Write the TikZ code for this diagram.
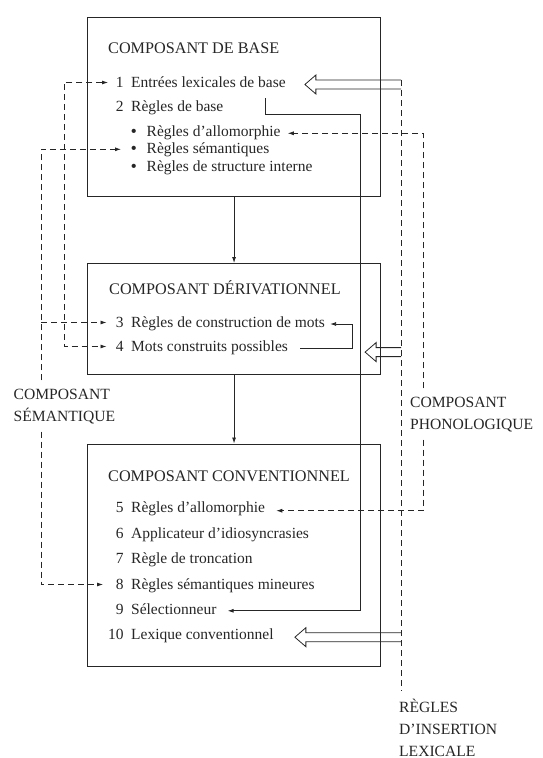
\documentclass[tikz,border=0pt]{standalone}
\usepackage{fontspec}
\setmainfont{Liberation Serif}
\usetikzlibrary{arrows.meta,calc}

\colorlet{ink}{black!85}

% numbered entry: right-aligned number, then the text
\newcommand\numitem[2]{\makebox[16pt][r]{#1}\hspace{7.5pt}#2}
% bulleted entry
\newcommand\bulitem[1]{\makebox[15.5pt][l]{\bfseries\textbullet}#1}
% outlined block arrow pointing left, from tail #1 to tip #2 (same height)
\newcommand\hollowarrow[2]{%
  \draw[hollow] ([yshift=4.5pt]#1) -- ([xshift=11pt,yshift=4.5pt]#2)
    -- ([xshift=11pt,yshift=9.5pt]#2) -- (#2)
    -- ([xshift=11pt,yshift=-9.5pt]#2) -- ([xshift=11pt,yshift=-4.5pt]#2)
    -- ([yshift=-4.5pt]#1);}

\begin{document}
\begin{tikzpicture}[x=1pt,y=-1pt,
  every node/.style={inner sep=0pt, text=ink},
  box/.style={draw=ink, line width=1.1pt, anchor=north west},
  ttl/.style={anchor=base west, font=\fontsize{16.2}{20}\selectfont},
  itm/.style={anchor=base west, font=\fontsize{15.5}{20}\selectfont},
  side/.style={anchor=base west, align=left, inner xsep=0pt, inner ysep=8pt,
               font=\fontsize{15.6}{22}\selectfont},
  conn/.style={draw=ink, line width=0.8pt},
  dsh/.style={draw=ink, line width=0.75pt, dash pattern=on 6pt off 4pt},
  hollow/.style={draw=ink, line width=0.8pt, line join=miter},
  >={Latex[length=6pt,width=4pt]}]

\useasboundingbox (0,0) rectangle (542,758);

% the three components
\node[box, minimum width=293pt, minimum height=179.5pt] (cbase) at (87,16.5) {};
\node[box, minimum width=293pt, minimum height=111pt]   (cder)  at (87,263) {};
\node[box, minimum width=293pt, minimum height=222pt]   (cconv) at (87,443.5) {};

\node[ttl] (tb) at (108,53)  {COMPOSANT DE BASE};
\node[ttl] (td) at (109,294) {COMPOSANT DÉRIVATIONNEL};
\node[ttl] (tc) at (108,481) {COMPOSANT CONVENTIONNEL};

% base component
\node[itm] (i1) at (107.5,87)  {\numitem{1}{Entrées lexicales de base}};
\node[itm] (i2) at (107.5,111) {\numitem{2}{Règles de base}};
\node[itm] (b1) at (131,136.3) {\bulitem{Règles d’allomorphie}};
\node[itm] (b2) at (131,153.8) {\bulitem{Règles sémantiques}};
\node[itm] (b3) at (131,171.3) {\bulitem{Règles de structure interne}};

% derivational component
\node[itm] (i3) at (107.5,327) {\numitem{3}{Règles de construction de mots}};
\node[itm] (i4) at (107.5,351) {\numitem{4}{Mots construits possibles}};

% conventional component
\node[itm] (i5)  at (107.5,512.7) {\numitem{5}{Règles d’allomorphie}};
\node[itm] (i6)  at (107.5,538.1) {\numitem{6}{Applicateur d’idiosyncrasies}};
\node[itm] (i7)  at (107.5,563.5) {\numitem{7}{Règle de troncation}};
\node[itm] (i8)  at (107.5,589)   {\numitem{8}{Règles sémantiques mineures}};
\node[itm] (i9)  at (107.5,614.3) {\numitem{9}{Sélectionneur}};
\node[itm] (i10) at (107.5,639.7) {\numitem{10}{Lexique conventionnel}};

% outer components (anchored on the baseline of their last line)
\node[side] (sem)  at (13.5,421) {COMPOSANT\\SÉMANTIQUE};
\node[side] (phon) at (410,429)  {COMPOSANT\\PHONOLOGIQUE};
\node[side] (ins)  at (399,756)  {RÈGLES\\D’INSERTION\\LEXICALE};

% columns of the dashed lines
\coordinate (Lout) at (41,0);
\coordinate (Lin)  at (64,0);
\coordinate (Ra)   at (401,0);
\coordinate (Rb)   at (423,0);

% arrow ends
\coordinate (a1)  at ([xshift=0.5pt,yshift=4.5pt]i1.base west);
\coordinate (ab2) at ([xshift=-10pt,yshift=4.5pt]b2.base west);
\coordinate (a3)  at ([xshift=-1pt,yshift=4.5pt]i3.base west);
\coordinate (a4)  at ([xshift=-1pt,yshift=4.5pt]i4.base west);
\coordinate (a8)  at ([xshift=-4.5pt,yshift=4.5pt]i8.base west);
\coordinate (ab1) at ([xshift=7pt,yshift=3pt]b1.base east);
\coordinate (a5)  at ([xshift=11pt,yshift=2pt]i5.base east);
\coordinate (a9)  at ([xshift=11pt,yshift=3.5pt]i9.base east);
\coordinate (h1)  at ([xshift=19pt,yshift=2.5pt]i1.base east);
\coordinate (h2)  at ([xshift=-16pt,yshift=23pt]cder.south east);
\coordinate (h3)  at ([xshift=21pt,yshift=2.5pt]i10.base east);
\coordinate (h1t) at (h1 -| Ra);
\coordinate (h2t) at (h2 -| Ra);
\coordinate (h3t) at (h3 -| Ra);

% flow between the components
\draw[conn,->] (cbase.south) -- (cder.north);
\draw[conn,->] (cder.south) -- (cconv.north);

% base rules feed the selector
\coordinate (s2) at (265,98);
\coordinate (rv) at (360,114);
\draw[conn,->] (s2) |- (rv) |- (a9);

% possible words loop back to word-formation rules
\coordinate (l4) at ([xshift=12pt,yshift=3pt]i4.base east);
\coordinate (l3) at ([xshift=5pt,yshift=3pt]i3.base east);
\coordinate (lr) at (352,0);
\draw[conn,->] (l4) -- (l4 -| lr) |- (l3);

% semantic component
\draw[dsh,<->] (a1) -| (a4 -| Lin) -- (a4);
\draw[dsh,->] (sem.north -| Lout) |- (ab2);
\draw[dsh,->] (a3 -| Lout) -- (a3);
\draw[dsh,->] (sem.south -| Lout) |- (a8);

% phonological component
\draw[dsh,->] (phon.north -| Rb) |- (ab1);
\draw[dsh,->] (phon.south -| Rb) |- (a5);

% lexical insertion rules
\draw[dsh] ([yshift=4.5pt]h1t) -- (ins.north -| Ra);
\hollowarrow{h1t}{h1}
\hollowarrow{h2t}{h2}
\hollowarrow{h3t}{h3}
\end{tikzpicture}
\end{document}
